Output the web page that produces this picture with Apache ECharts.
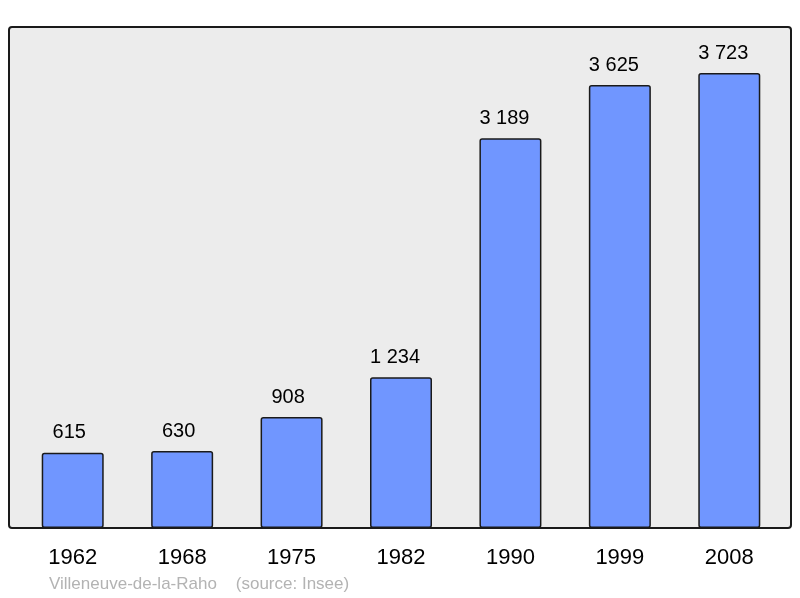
<!DOCTYPE html>
<html><head><meta charset="utf-8">
<script src="https://cdn.jsdelivr.net/npm/echarts@6/dist/echarts.min.js"></script>
<style>html,body{margin:0;padding:0;background:#fff}#c{width:800px;height:598px}</style>
</head><body><div id="c"></div>
<script>
const years = ['1962','1968','1975','1982','1990','1999','2008'];
const population = [615, 630, 908, 1234, 3189, 3625, 3723];
const footer = 'Villeneuve-de-la-Raho    (source: Insee)';

function fmt(v){ return String(v).replace(/\B(?=(\d{3})+(?!\d))/g, ' '); }

const FONT = 'Liberation Sans, Arial, sans-serif';
const chart = echarts.init(document.getElementById('c'));
chart.setOption({
  animation: false,
  textStyle: {fontFamily: FONT},
  title: {
    text: footer, left: 49, top: 576, padding: 0,
    textStyle: {fontSize: 17, fontWeight: 'normal', color: '#b3b3b3', fontFamily: FONT}
  },
  graphic: [{
    type: 'rect', z: -1,
    shape: {x: 9, y: 27, width: 782, height: 501, r: 3},
    style: {fill: '#ececec', stroke: '#1a1a1a', lineWidth: 2}
  }],
  grid: {left: 18, top: 27, width: 766, height: 501},
  xAxis: {
    type: 'category', data: years,
    axisLine: {show: false}, axisTick: {show: false},
    axisLabel: {margin: 19, fontSize: 22, color: '#000', fontFamily: FONT}
  },
  yAxis: {
    type: 'value', min: 0, max: 4100, show: false,
    splitLine: {show: false}
  },
  series: [{
    type: 'bar', barWidth: 62, z: 2,
    data: population.map(v => ({
      value: v,
      label: {offset: [-(fmt(v).length * 1.25 - 0.25), 0]}
    })),
    itemStyle: {color: '#7096ff', borderColor: '#1a1a1a', borderWidth: 1.5, borderRadius: 2},
    label: {
      show: true, position: 'top', distance: 10, fontSize: 20, color: '#000',
      fontFamily: FONT,
      formatter: p => fmt(p.value)
    }
  }]
});
</script></body></html>
